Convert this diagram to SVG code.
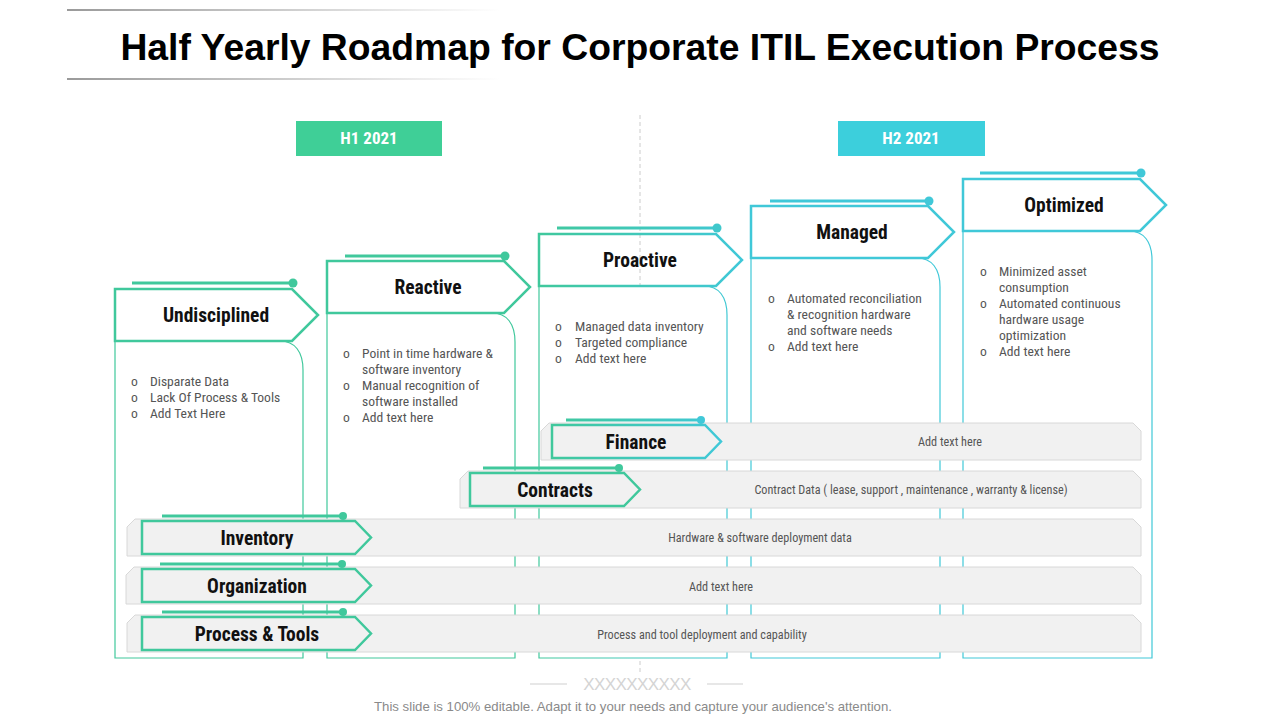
<svg xmlns="http://www.w3.org/2000/svg" width="1280" height="720" viewBox="0 0 1280 720">
<defs>
<linearGradient id="tl" gradientUnits="userSpaceOnUse" x1="67" y1="0" x2="500" y2="0"><stop offset="0" stop-color="#9a9a9a"/><stop offset="1" stop-color="#ffffff"/></linearGradient>
<linearGradient id="gp" gradientUnits="userSpaceOnUse" x1="539" y1="0" x2="742" y2="0"><stop offset="0" stop-color="#40c89c"/><stop offset="1" stop-color="#40c8d8"/></linearGradient>
<linearGradient id="gf" gradientUnits="userSpaceOnUse" x1="552" y1="0" x2="721" y2="0"><stop offset="0" stop-color="#40c89c"/><stop offset="1" stop-color="#40c8d8"/></linearGradient>
<style>
.title{font-family:"Liberation Sans",Arial,sans-serif;font-weight:bold;font-size:37.3px;fill:#000}
.hd{font-family:"Liberation Sans Narrow","Roboto Condensed","Liberation Sans",sans-serif;font-weight:bold;font-size:19.5px;fill:#111;text-anchor:middle}
.yr{font-family:"Liberation Sans Narrow","Roboto Condensed","Liberation Sans",sans-serif;font-weight:bold;font-size:17px;fill:#fff;text-anchor:middle}
.bt{font-family:"Liberation Sans Narrow","Roboto Condensed","Liberation Sans",sans-serif;font-size:13.6px;fill:#555}
.bar-t{font-family:"Liberation Sans Narrow","Roboto Condensed","Liberation Sans",sans-serif;font-size:12.2px;fill:#555;text-anchor:middle}
.ft{font-family:"Liberation Sans",Arial,sans-serif;font-size:13.2px;fill:#8a8a8a;text-anchor:middle}
.g{stroke:#40c89c}
.c{stroke:#40c8d8}
.p{stroke:url(#gp)}
.f{stroke:url(#gf)}
.hdr{fill:none;stroke-width:2.5;stroke-linejoin:miter}
.body{fill:#fff;stroke-width:1.2}
.top{stroke-width:3;fill:none}
.bar{fill:#f1f1f1;stroke:#d8d8d8;stroke-width:1}
.lbl{fill:#f1f1f1;stroke-width:2.5}
</style>
</defs>
<rect width="1280" height="720" fill="#fff"/>

<g id="title">
<line x1="67" y1="10" x2="500" y2="10" stroke="url(#tl)" stroke-width="2"/>
<line x1="67" y1="79" x2="500" y2="79" stroke="url(#tl)" stroke-width="2"/>
<text class="title" x="640" y="60" text-anchor="middle">Half Yearly Roadmap for Corporate ITIL Execution Process</text>
</g>

<g id="timeline">
<line x1="640" y1="115" x2="640" y2="672" stroke="#cccccc" stroke-width="1" stroke-dasharray="4 3"/>
<g id="h1"><rect x="296" y="121" width="146" height="35" fill="#3fcf97"/><text class="yr" x="369" y="144">H1 2021</text></g>
<g id="h2"><rect x="838" y="121" width="147" height="35" fill="#3ccfdc"/><text class="yr" x="911" y="144">H2 2021</text></g>
</g>

<g id="stage-undisciplined">
<path class="body g" d="M115 341 L115 658 L303 658 L303 370 C303 352 295 341 280 341"/>
<polygon class="hdr g" points="115,289 292,289 318,315 292,341 115,341"/>
<line class="top g" x1="132" y1="283" x2="293" y2="283"/><circle cx="293" cy="283" r="4.5" fill="#40c89c"/>
<text class="hd" x="216" y="322">Undisciplined</text>
<g class="bt"><text x="131" y="386">o</text><text x="150" y="386">Disparate Data</text>
<text x="131" y="402">o</text><text x="150" y="402">Lack Of Process &amp; Tools</text>
<text x="131" y="418">o</text><text x="150" y="418">Add Text Here</text></g>
</g>

<g id="stage-reactive">
<path class="body g" d="M327 313 L327 658 L515 658 L515 342 C515 324 507 313 492 313"/>
<polygon class="hdr g" points="327,261 504,261 530,287 504,313 327,313"/>
<line class="top g" x1="345" y1="256" x2="505" y2="256"/><circle cx="505" cy="256" r="4.5" fill="#40c89c"/>
<text class="hd" x="428" y="294">Reactive</text>
<g class="bt"><text x="343" y="358">o</text><text x="362" y="358">Point in time hardware &amp;</text>
<text x="362" y="374">software inventory</text>
<text x="343" y="390">o</text><text x="362" y="390">Manual recognition of</text>
<text x="362" y="406">software installed</text>
<text x="343" y="422">o</text><text x="362" y="422">Add text here</text></g>
</g>

<g id="stage-proactive">
<path class="body p" d="M539 286 L539 658 L727 658 L727 315 C727 297 719 286 704 286"/>
<polygon class="hdr p" points="539,234 716,234 742,260 716,286 539,286"/>
<line class="top p" x1="557" y1="228" x2="717" y2="228"/><circle cx="717" cy="228" r="4.5" fill="#40c8cc"/>
<text class="hd" x="640" y="267">Proactive</text>
<g class="bt"><text x="555" y="331">o</text><text x="575" y="331">Managed data inventory</text>
<text x="555" y="347">o</text><text x="575" y="347">Targeted compliance</text>
<text x="555" y="363">o</text><text x="575" y="363">Add text here</text></g>
</g>

<g id="stage-managed">
<path class="body c" d="M751 258 L751 658 L940 658 L940 287 C940 269 932 258 917 258"/>
<polygon class="hdr c" points="751,206 928,206 954,232 928,258 751,258"/>
<line class="top c" x1="770" y1="201" x2="929" y2="201"/><circle cx="929" cy="201" r="4.5" fill="#40c8d8"/>
<text class="hd" x="852" y="239">Managed</text>
<g class="bt"><text x="768" y="303">o</text><text x="787" y="303">Automated reconciliation</text>
<text x="787" y="319">&amp; recognition hardware</text>
<text x="787" y="335">and software needs</text>
<text x="768" y="351">o</text><text x="787" y="351">Add text here</text></g>
</g>

<g id="stage-optimized">
<path class="body c" d="M963 231 L963 658 L1152 658 L1152 260 C1152 242 1144 231 1129 231"/>
<polygon class="hdr c" points="963,179 1140,179 1166,205 1140,231 963,231"/>
<line class="top c" x1="980" y1="173" x2="1141" y2="173"/><circle cx="1141" cy="173" r="4.5" fill="#40c8d8"/>
<text class="hd" x="1064" y="212">Optimized</text>
<g class="bt"><text x="980" y="276">o</text><text x="999" y="276">Minimized asset</text>
<text x="999" y="292">consumption</text>
<text x="980" y="308">o</text><text x="999" y="308">Automated continuous</text>
<text x="999" y="324">hardware usage</text>
<text x="999" y="340">optimization</text>
<text x="980" y="356">o</text><text x="999" y="356">Add text here</text></g>
</g>

<g id="row-finance">
<path class="bar" d="M541 431 L549 423 L1133 423 L1141 431 L1141 460 L541 460 Z"/>
<polygon class="lbl f" points="552,425 705,425 721,441.5 705,458 552,458"/>
<line class="top f" x1="566" y1="420" x2="701" y2="420"/><circle cx="701" cy="420" r="4" fill="#40c8d8"/>
<text class="hd" x="636" y="449">Finance</text>
<text class="bar-t" x="950" y="446">Add text here</text>
</g>

<g id="row-contracts">
<path class="bar" d="M460 479 L468 471 L1133 471 L1141 479 L1141 508 L460 508 Z"/>
<polygon class="lbl g" points="470,473 624,473 640,489.5 624,506 470,506"/>
<line class="top g" x1="483" y1="468" x2="619" y2="468"/><circle cx="619" cy="468" r="4" fill="#40c89c"/>
<text class="hd" x="555" y="497">Contracts</text>
<text class="bar-t" x="911" y="494">Contract Data ( lease, support , maintenance  , warranty &amp; license)</text>
</g>

<g id="row-inventory">
<path class="bar" d="M127 527 L135 519 L1133 519 L1141 527 L1141 556 L127 556 Z"/>
<polygon class="lbl g" points="142,521 355,521 371,537.5 355,554 142,554"/>
<line class="top g" x1="162" y1="516" x2="343" y2="516"/><circle cx="343" cy="516" r="4" fill="#40c89c"/>
<text class="hd" x="257" y="545">Inventory</text>
<text class="bar-t" x="760" y="542">Hardware &amp; software deployment data</text>
</g>

<g id="row-organization">
<path class="bar" d="M126 575 L134 567 L1133 567 L1141 575 L1141 604 L126 604 Z"/>
<polygon class="lbl g" points="142,569 355,569 371,585.5 355,602 142,602"/>
<line class="top g" x1="160" y1="564" x2="342" y2="564"/><circle cx="342" cy="564" r="4" fill="#40c89c"/>
<text class="hd" x="257" y="593">Organization</text>
<text class="bar-t" x="721" y="591">Add text here</text>
</g>

<g id="row-process">
<path class="bar" d="M127 623 L135 615 L1133 615 L1141 623 L1141 652 L127 652 Z"/>
<polygon class="lbl g" points="142,617 355,617 371,633.5 355,650 142,650"/>
<line class="top g" x1="162" y1="612" x2="343" y2="612"/><circle cx="343" cy="612" r="4" fill="#40c89c"/>
<text class="hd" x="257" y="641">Process &amp; Tools</text>
<text class="bar-t" x="702" y="639">Process and tool deployment and capability</text>
</g>

<g id="footer">
<line x1="530" y1="684" x2="567" y2="684" stroke="#cfcfcf" stroke-width="1"/>
<line x1="707" y1="684" x2="743" y2="684" stroke="#cfcfcf" stroke-width="1"/>
<text x="637" y="690" text-anchor="middle" font-family="Liberation Sans,sans-serif" font-size="17" fill="#d4d4d4" letter-spacing="-0.6">XXXXXXXXXX</text>
<text class="ft" x="633" y="711">This slide is 100% editable. Adapt it to your needs and capture your audience's attention.</text>
</g>
</svg>
